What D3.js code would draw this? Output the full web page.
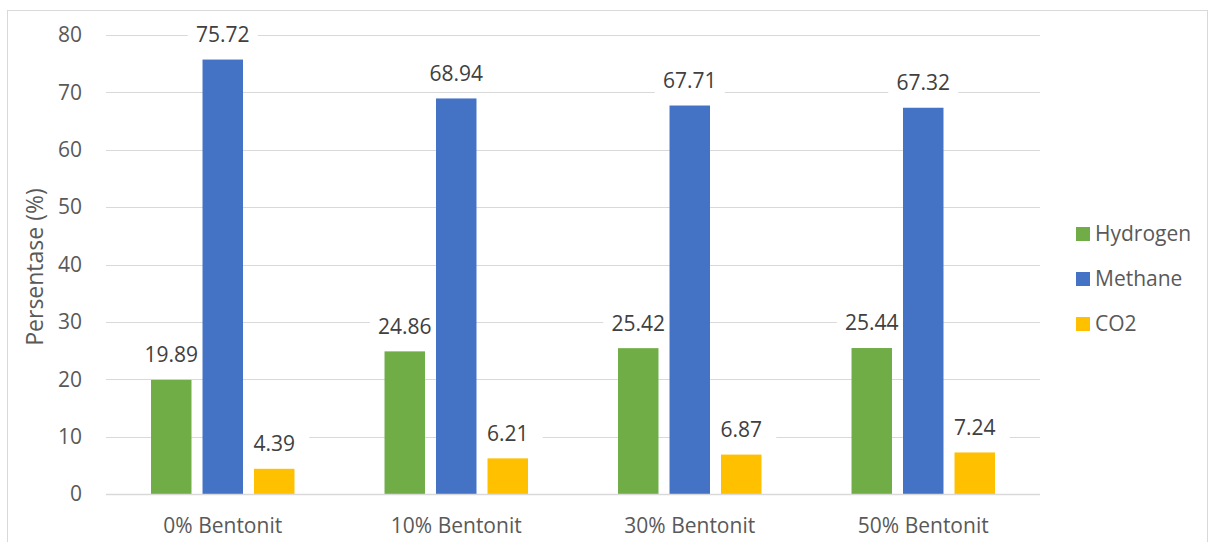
<!DOCTYPE html>
<html>
<head>
<meta charset="utf-8">
<script src="https://cdn.jsdelivr.net/npm/d3@7"></script>
<style>
  body { margin: 0; background: #fff; }
  text { font-family: "Open Sans", sans-serif; }
</style>
</head>
<body>
<div id="chart"></div>
<script>
var categories = ["0% Bentonit", "10% Bentonit", "30% Bentonit", "50% Bentonit"]
var seriesNames = ["Hydrogen", "Methane", "CO2"]
var hydrogen = [19.89, 24.86, 25.42, 25.44]
var methane = [75.72, 68.94, 67.71, 67.32]
var co2 = [4.39, 6.21, 6.87, 7.24]
var yTicks = [0, 10, 20, 30, 40, 50, 60, 70, 80]

var width = 1209,
    height = 542

var seriesValues = [hydrogen, methane, co2]

var svg = d3.select("#chart")
  .append("svg")
    .attr("width", width)
    .attr("height", height)

// chart border
svg.append("rect")
  .attr("x", 7.5).attr("y", 10.5)
  .attr("width", 1200).attr("height", 560)
  .attr("fill", "none")
  .attr("stroke", "#d9d9d9")

var plotLeft = 106, plotRight = 1040, plotTop = 35, plotBottom = 494

var y = d3.scaleLinear()
  .domain([0, 80])
  .range([plotBottom, plotTop])

var x0 = d3.scaleBand()
  .domain(categories)
  .range([plotLeft, plotRight])
  .padding(0)

var x1 = d3.scaleBand()
  .domain(seriesNames)
  .range([0, x0.bandwidth()])
  .paddingInner(0.214)
  .paddingOuter(0.874)

var color = d3.scaleOrdinal()
  .domain(seriesNames)
  .range(["#70ad47", "#4472c4", "#ffc000"])

// gridlines
svg.append("g")
  .selectAll("line")
  .data(yTicks)
  .enter()
  .append("line")
    .attr("x1", plotLeft).attr("x2", plotRight)
    .attr("y1", function(d) { return Math.round(y(d)) + 0.5 })
    .attr("y2", function(d) { return Math.round(y(d)) + 0.5 })
    .attr("stroke", "#d9d9d9")
    .attr("stroke-width", 1.2)

// y tick labels
svg.append("g")
  .selectAll("text")
  .data(yTicks)
  .enter()
  .append("text")
    .attr("x", 82)
    .attr("y", function(d) { return y(d) })
    .attr("dy", "0.35em")
    .attr("text-anchor", "end")
    .attr("fill", "#595959")
    .style("font-size", "21px")
    .text(function(d) { return d })

// y title
svg.append("text")
  .attr("transform", "translate(43," + 267 + ") rotate(-90)")
  .attr("text-anchor", "middle")
  .attr("fill", "#595959")
  .style("font-size", "23px")
  .text("Persentase (%)")

// rows for bars
var rows = []
categories.forEach(function(c, i) {
  seriesNames.forEach(function(s, j) {
    rows.push({ cat: c, series: s, value: seriesValues[j][i] })
  })
})

function labelX(d) { return x0(d.cat) + x1(d.series) + x1.bandwidth() / 2 }
function labelY(d) { return y(d.value) - 25 }

// white boxes behind value labels (they only hide gridlines)
svg.append("g")
  .selectAll("rect")
  .data(rows)
  .enter()
  .append("rect")
    .attr("x", function(d) { return labelX(d) - 35 })
    .attr("y", function(d) { return labelY(d) - 14 })
    .attr("width", 70).attr("height", 28)
    .attr("fill", "#fff")

// bars
svg.append("g")
  .selectAll("rect")
  .data(rows)
  .enter()
  .append("rect")
    .attr("x", function(d) { return x0(d.cat) + x1(d.series) })
    .attr("y", function(d) { return y(d.value) })
    .attr("width", x1.bandwidth())
    .attr("height", function(d) { return y(0) - y(d.value) })
    .attr("fill", function(d) { return color(d.series) })

// baseline over bars
svg.append("line")
  .attr("x1", plotLeft).attr("x2", plotRight)
  .attr("y1", Math.round(y(0)) + 0.5).attr("y2", Math.round(y(0)) + 0.5)
  .attr("stroke", "#d9d9d9")
  .attr("stroke-width", 1.5)

// value labels
svg.append("g")
  .selectAll("text")
  .data(rows)
  .enter()
  .append("text")
    .attr("x", labelX)
    .attr("y", labelY)
    .attr("text-anchor", "middle")
    .attr("dy", "0.35em")
    .attr("fill", "#404040")
    .style("font-size", "21px")
    .text(function(d) { return d3.format(".2f")(d.value) })

// x labels
svg.append("g")
  .selectAll("text")
  .data(categories)
  .enter()
  .append("text")
    .attr("x", function(d) { return x0(d) + x0.bandwidth() / 2 })
    .attr("y", 526)
    .attr("dy", "0.35em")
    .attr("text-anchor", "middle")
    .attr("fill", "#595959")
    .style("font-size", "21px")
    .text(function(d) { return d })

// legend
var legend = svg.append("g")
  .selectAll("g")
  .data(seriesNames)
  .enter()
  .append("g")
    .attr("transform", function(d, i) { return "translate(1076," + (234 + i * 45) + ")" })

legend.append("rect")
  .attr("x", 0).attr("y", -7)
  .attr("width", 14).attr("height", 14)
  .attr("fill", function(d) { return color(d) })

legend.append("text")
  .attr("x", 19)
  .attr("dy", "0.35em")
  .attr("fill", "#595959")
  .style("font-size", "21px")
  .text(function(d) { return d })
</script>
</body>
</html>
